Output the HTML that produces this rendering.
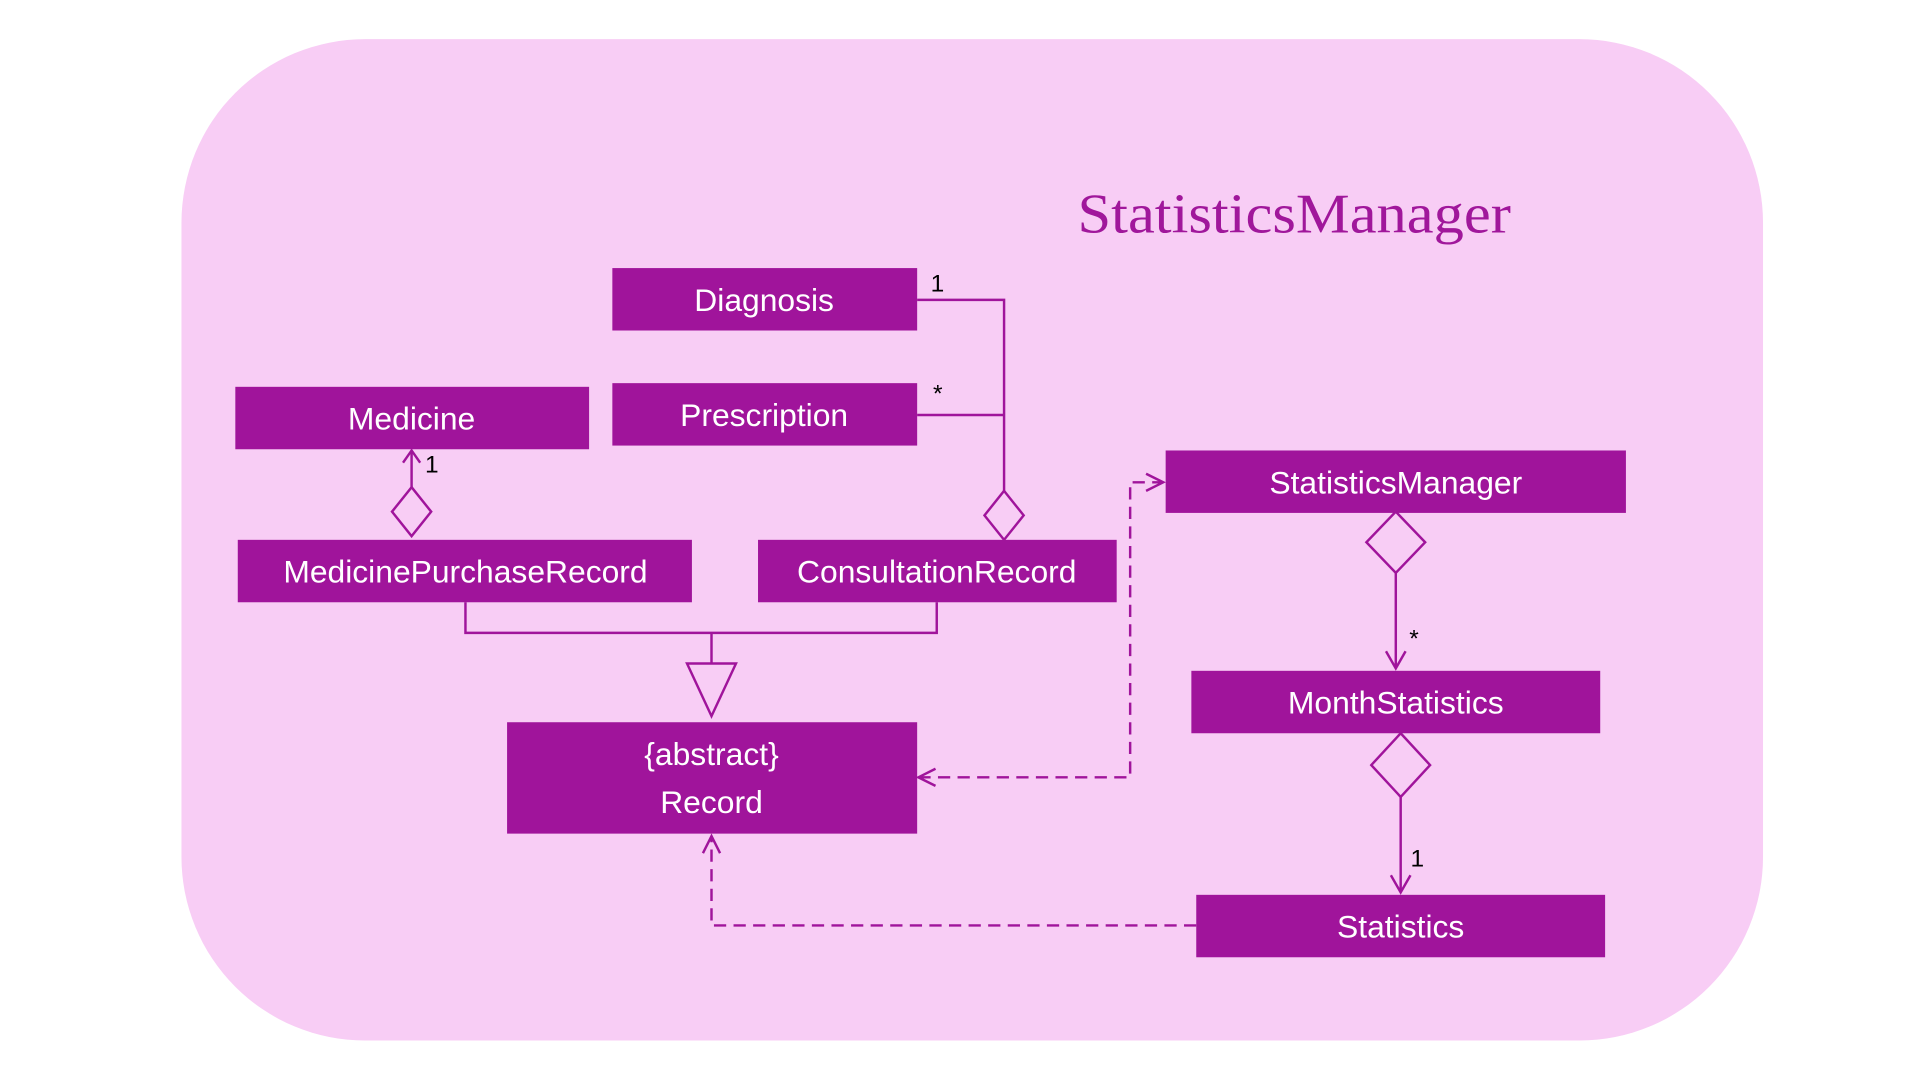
<!DOCTYPE html>
<html><head><meta charset="utf-8"><style>html,body{margin:0;padding:0;background:#fff}svg{display:block}</style></head>
<body>
<svg width="1920" height="1076" viewBox="0 0 1568 879" xmlns="http://www.w3.org/2000/svg">
<rect x="148" y="32" width="1292" height="818" rx="150" fill="#F8CDF5"/>
<text x="880" y="190" font-family="Liberation Serif, serif" font-size="46" fill="#A0179B" textLength="354" lengthAdjust="spacingAndGlyphs">StatisticsManager</text>
<g fill="#A0149B">
<rect x="500" y="219" width="249" height="51"/>
<rect x="500" y="313" width="249" height="51"/>
<rect x="192" y="316" width="289" height="51"/>
<rect x="194" y="441" width="371" height="51"/>
<rect x="619" y="441" width="293" height="51"/>
<rect x="952" y="368" width="376" height="51"/>
<rect x="973" y="548" width="334" height="51"/>
<rect x="414" y="590" width="335" height="91"/>
<rect x="977" y="731" width="334" height="51"/>
</g>
<g font-family="Liberation Sans, sans-serif" font-size="26" fill="#fff" text-anchor="middle">
<text x="624" y="254">Diagnosis</text>
<text x="624" y="348">Prescription</text>
<text x="336" y="351">Medicine</text>
<text x="380" y="476">MedicinePurchaseRecord</text>
<text x="765" y="476">ConsultationRecord</text>
<text x="1140" y="403">StatisticsManager</text>
<text x="1140" y="583">MonthStatistics</text>
<text x="581" y="625">{abstract}</text>
<text x="581" y="664">Record</text>
<text x="1144" y="766">Statistics</text>
</g>
<g stroke="#A0149B" stroke-width="2" fill="none">
<polyline points="749,245 820,245 820,401"/>
<line x1="749" y1="339" x2="820" y2="339"/>
<polygon points="820,401 836,421 820,441 804,421" fill="#F8CDF5"/>
<line x1="336" y1="398" x2="336" y2="368"/>
<polyline points="329,378 336,368 343,378"/>
<polygon points="336,398 352,418 336,438 320,418" fill="#F8CDF5"/>
<polyline points="380,492 380,517 765,517 765,492"/>
<line x1="581" y1="517" x2="581" y2="542"/>
<polygon points="561,542 601,542 581,585" fill="#F8CDF5"/>
<polygon points="1140,418 1164,443 1140,468 1116,443" fill="#F8CDF5"/>
<line x1="1140" y1="468" x2="1140" y2="546"/>
<polyline points="1132,532 1140,546 1148,532"/>
<polygon points="1144,599 1168,625 1144,651 1120,625" fill="#F8CDF5"/>
<line x1="1144" y1="651" x2="1144" y2="729"/>
<polyline points="1136,715 1144,729 1152,715"/>
<g stroke-dasharray="10,6">
<polyline points="750,635 923,635 923,394 950,394"/>
<polyline points="977,756 581,756 581,683"/>
</g>
<polyline points="936,387 950,394 936,401"/>
<polyline points="764,628 750,635 764,642"/>
<polyline points="574,697 581,683 588,697"/>
</g>
<g font-family="Liberation Sans, sans-serif" font-size="20" fill="#000">
<text x="760" y="238">1</text>
<text x="762" y="328">*</text>
<text x="347" y="386">1</text>
<text x="1151" y="528">*</text>
<text x="1152" y="708">1</text>
</g>
</svg>
</body></html>
